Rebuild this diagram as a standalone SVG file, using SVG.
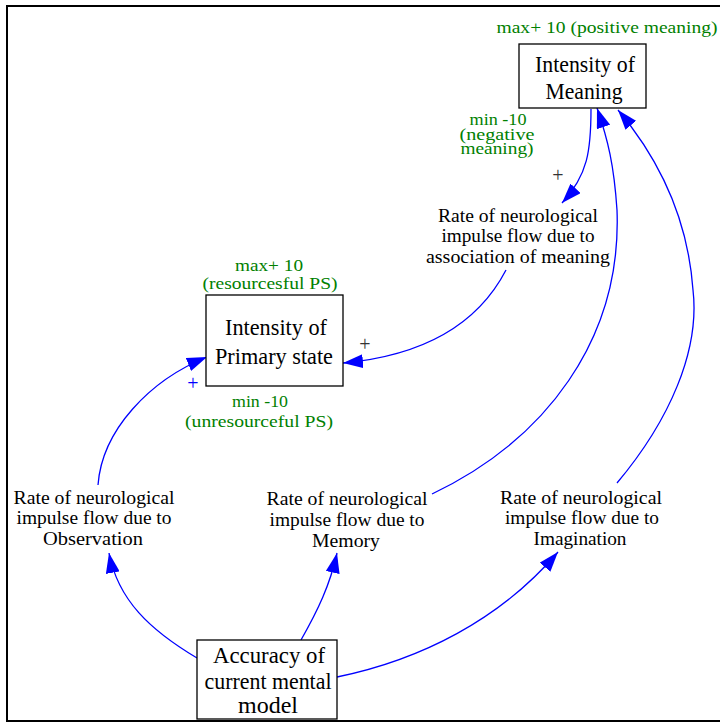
<svg xmlns="http://www.w3.org/2000/svg" width="720" height="723" viewBox="0 0 720 723">
<style>
.box{fill:#fff;stroke:#000;stroke-width:1.3}
.t{font-family:"Liberation Serif","Times New Roman",serif;fill:#000;text-anchor:middle}
.b{font-size:23px}
.r{font-size:18.5px}
.g{font-family:"Liberation Serif","Times New Roman",serif;font-size:17px;fill:#008000;text-anchor:middle}
.s{font-size:16px}
.c{fill:none;stroke:#0000ff;stroke-width:1.3}
.p{font-family:"Liberation Serif","Times New Roman",serif;font-size:20px;text-anchor:middle}
</style>
<defs>
<marker id="ah" markerUnits="userSpaceOnUse" markerWidth="20" markerHeight="14" refX="20" refY="7" orient="auto">
<path d="M0,0 L20,7 L0,14 z" fill="#0000ff"/>
</marker>
</defs>
<rect x="0" y="0" width="720" height="723" fill="#fff"/>
<rect x="7" y="6" width="720" height="715" fill="none" stroke="#000" stroke-width="2"/>

<g id="connectors">
<path class="c" marker-end="url(#ah)" d="M591,109 C591,150 588,175 562,203"/>
<path class="c" marker-end="url(#ah)" d="M506,270 C480,320 430,355 343,363"/>
<path class="c" marker-end="url(#ah)" d="M432,494 C545,440 622,340 617,210 C614,165 608,140 597,108"/>
<path class="c" marker-end="url(#ah)" d="M617,483 C670,420 700,350 693,290 C688,220 660,160 618,110"/>
<path class="c" marker-end="url(#ah)" d="M98,485 C102,430 150,380 207,357"/>
<path class="c" marker-end="url(#ah)" d="M197,658 C150,630 118,600 109,553"/>
<path class="c" marker-end="url(#ah)" d="M301,640 C318,610 330,585 337,553"/>
<path class="c" marker-end="url(#ah)" d="M337,677 C420,660 500,620 558,552"/>
<text class="p" x="558" y="182" fill="#333">+</text>
<text class="p" x="365" y="351" fill="#333">+</text>
<text class="p" x="193" y="390" fill="#0000ff">+</text>
</g>

<g id="meaning">
<rect class="box" x="519" y="44" width="127" height="64"/>
<text class="t b" x="585" y="72" textLength="100" lengthAdjust="spacingAndGlyphs">Intensity of</text>
<text class="t b" x="584" y="99" textLength="77" lengthAdjust="spacingAndGlyphs">Meaning</text>
<text class="g" x="607" y="33" textLength="221" lengthAdjust="spacingAndGlyphs">max+ 10 (positive meaning)</text>
<text class="g s" x="498" y="125" textLength="57" lengthAdjust="spacingAndGlyphs">min -10</text>
<text class="g s" x="497" y="140" textLength="75" lengthAdjust="spacingAndGlyphs">(negative</text>
<text class="g s" x="497" y="154" textLength="73" lengthAdjust="spacingAndGlyphs">meaning)</text>
</g>

<g id="primary">
<rect class="box" x="206" y="295" width="137" height="91"/>
<text class="t b" x="276" y="335" textLength="102" lengthAdjust="spacingAndGlyphs">Intensity of</text>
<text class="t b" x="274" y="364" textLength="118" lengthAdjust="spacingAndGlyphs">Primary state</text>
<text class="g" x="269" y="271" textLength="68" lengthAdjust="spacingAndGlyphs">max+ 10</text>
<text class="g" x="270" y="289" textLength="135" lengthAdjust="spacingAndGlyphs">(resourcesful PS)</text>
<text class="g" x="260" y="407" textLength="56" lengthAdjust="spacingAndGlyphs">min -10</text>
<text class="g" x="259" y="427" textLength="148" lengthAdjust="spacingAndGlyphs">(unresourceful PS)</text>
</g>

<g id="association">
<text class="t r" x="518" y="222" textLength="160" lengthAdjust="spacingAndGlyphs">Rate of neurological</text>
<text class="t r" x="518" y="242" textLength="153" lengthAdjust="spacingAndGlyphs">impulse flow due to</text>
<text class="t r" x="518" y="263" textLength="184" lengthAdjust="spacingAndGlyphs">association of meaning</text>
</g>

<g id="observation">
<text class="t r" x="94" y="504" textLength="161" lengthAdjust="spacingAndGlyphs">Rate of neurological</text>
<text class="t r" x="94" y="524" textLength="155" lengthAdjust="spacingAndGlyphs">impulse flow due to</text>
<text class="t r" x="93" y="545" textLength="100" lengthAdjust="spacingAndGlyphs">Observation</text>
</g>

<g id="memory">
<text class="t r" x="347" y="505" textLength="161" lengthAdjust="spacingAndGlyphs">Rate of neurological</text>
<text class="t r" x="347" y="526" textLength="155" lengthAdjust="spacingAndGlyphs">impulse flow due to</text>
<text class="t r" x="346" y="547" textLength="68" lengthAdjust="spacingAndGlyphs">Memory</text>
</g>

<g id="imagination">
<text class="t r" x="581" y="504" textLength="162" lengthAdjust="spacingAndGlyphs">Rate of neurological</text>
<text class="t r" x="582" y="524" textLength="154" lengthAdjust="spacingAndGlyphs">impulse flow due to</text>
<text class="t r" x="580" y="545" textLength="93" lengthAdjust="spacingAndGlyphs">Imagination</text>
</g>

<g id="accuracy">
<rect class="box" x="197" y="640" width="140" height="79"/>
<text class="t b" x="269" y="663" textLength="112" lengthAdjust="spacingAndGlyphs">Accuracy of</text>
<text class="t b" x="268" y="689" textLength="127" lengthAdjust="spacingAndGlyphs">current mental</text>
<text class="t b" x="268" y="713" textLength="60" lengthAdjust="spacingAndGlyphs">model</text>
</g>
</svg>
